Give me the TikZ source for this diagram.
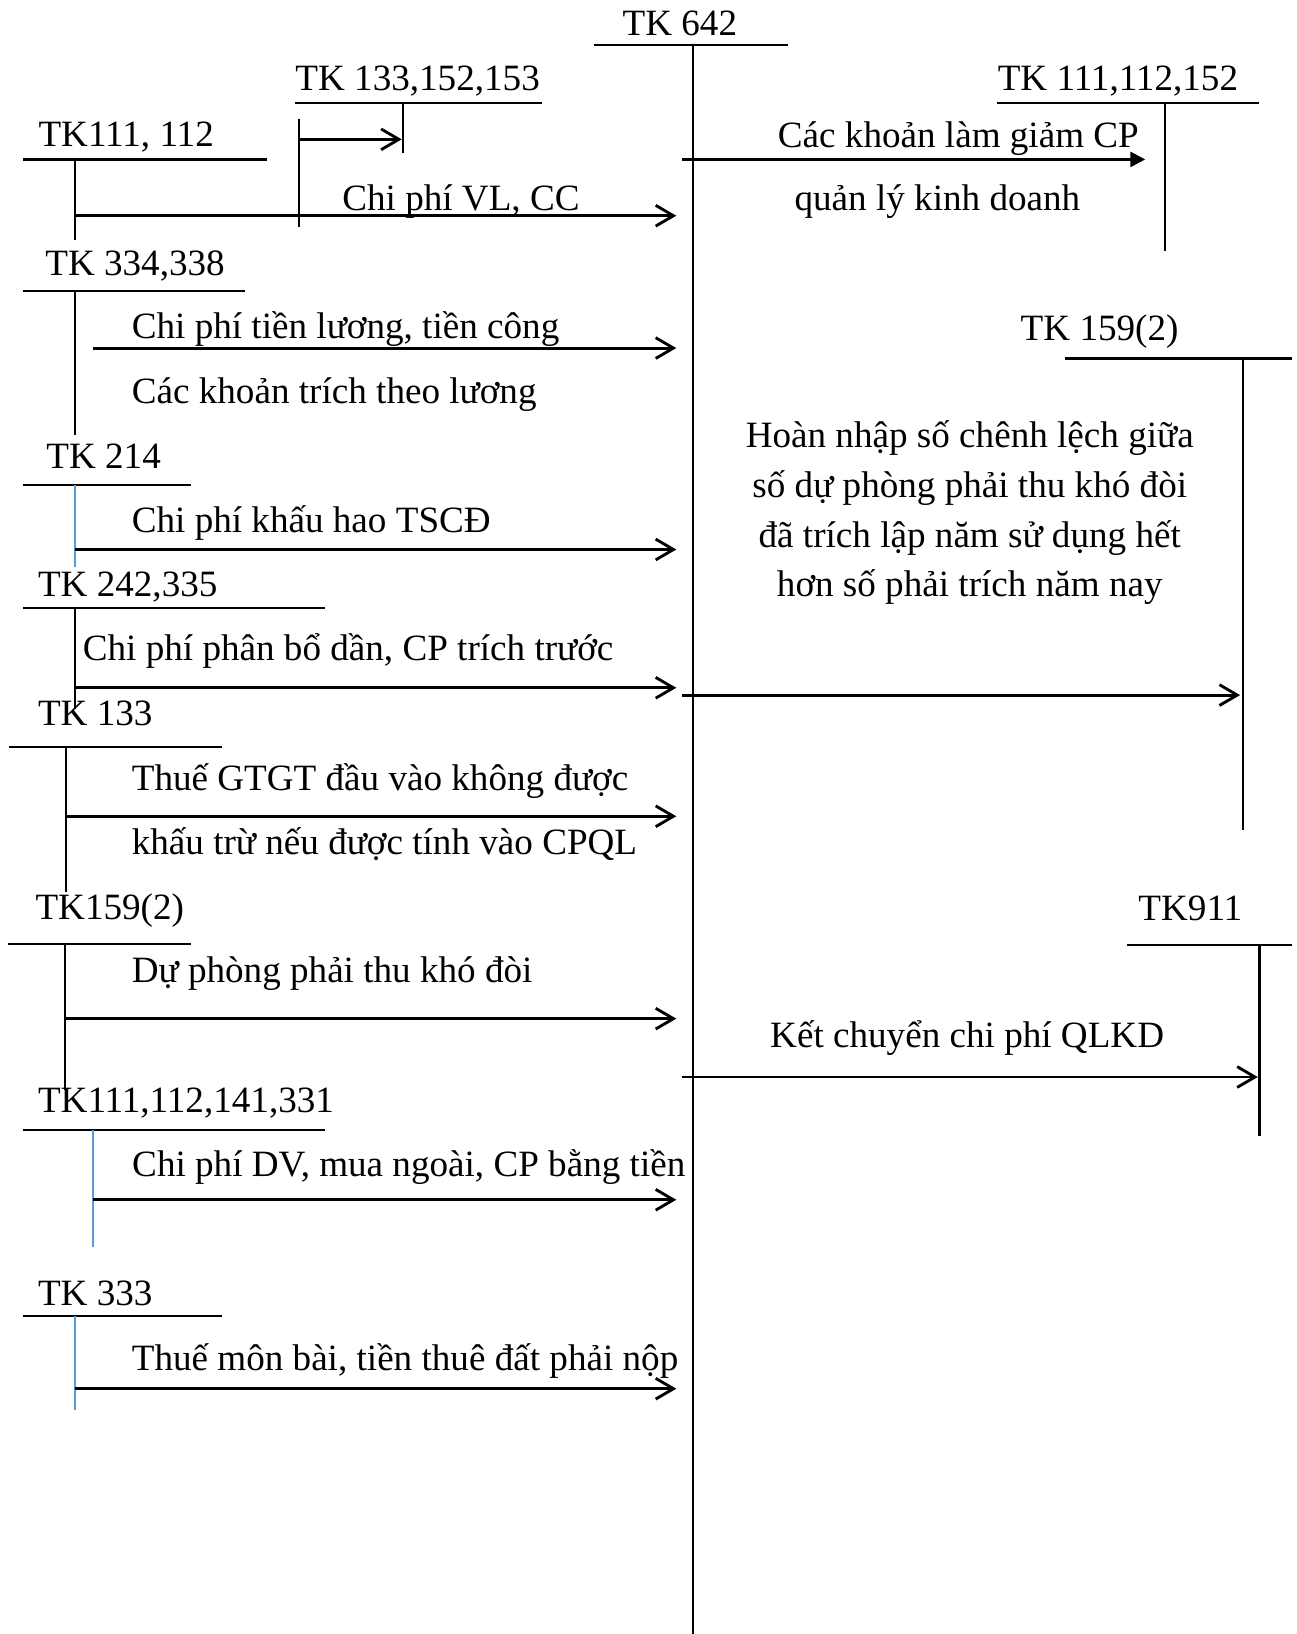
\documentclass[tikz,border=0pt]{standalone}
\usepackage{fontspec}
\setmainfont{Liberation Serif}
\usepackage{tikz}
\usetikzlibrary{calc,arrows.meta}
\definecolor{tkBlue}{RGB}{91,155,213}
\definecolor{tkInk}{RGB}{0,0,0}

\begin{document}
\begin{tikzpicture}[x=0.4pt,y=-0.4pt,font=\fontsize{14.25}{19}\selectfont,
  acc/.style={anchor=base west,inner sep=0pt},
  txt/.style={anchor=base west,inner sep=0pt},
  tline/.style={tkInk,line width=0.85pt},
  flow/.style={tkInk,line width=1.1pt,-{Straight Barb[length=2.4mm,width=2.8mm]}},
  flowfill/.style={tkInk,line width=1.1pt,-{Triangle[length=2mm,width=2mm]}}]
\useasboundingbox (0,0) rectangle (1244,1568);

% TK 642
\node[acc] (tk642) at (597,33.6) {TK 642};
\draw[tline] (570,43) -- (756,43);
\draw[tline,line width=0.95pt] (665,43) -- (665,1568);
\coordinate (in642) at (649,0);

% TK 133,152,153
\node[acc] (tk133a) at (283,86.4) {TK 133,152,153};
\draw[tline] (283,99) -- (520,99);
\draw[tline] (387,99) -- (387,147);
\draw[tline] (287,114) -- (287,218);
\coordinate (b133) at (287,133.7);
\coordinate (e133) at (385.5,99);
\draw[flow] (b133) -- (b133 -| e133);

% TK111, 112
\node[acc] (tk111) at (36.5,140.8) {TK111, 112};
\draw[tline] (22,153) -- (256,153);
\draw[tline] (72,153) -- (72,230);
\coordinate (v111) at (72,207);
\node[txt] (vlcc) at (328,201.6) {Chi phí VL, CC};

% TK 334,338
\node[acc] (tk334) at (43,264) {TK 334,338};
\draw[tline] (22,279) -- (235,279);
\draw[tline] (72,279) -- (72,417);
\coordinate (v334) at (89.5,334);
\node[txt] (luong) at (126,325) {Chi phí tiền lương, tiền công};
\node[txt] (trich) at (126,387.5) {Các khoản trích theo lương};

% TK 214
\node[acc] (tk214) at (44,449.5) {TK 214};
\draw[tline] (22,465.5) -- (183,465.5);
\draw[tline,tkBlue] (72,465.5) -- (72,544);
\coordinate (v214) at (72,527.3);
\node[txt] (khauhao) at (126,510.8) {Chi phí khấu hao TSCĐ};

% TK 242,335
\node[acc] (tk242) at (36,572.7) {TK 242,335};
\draw[tline] (22,583.3) -- (311.6,583.3);
\draw[tline] (72,583.3) -- (72,680);
\coordinate (v242) at (72,660);
\node[txt] (phanbo) at (79,634) {Chi phí phân bổ dần, CP trích trước};

% TK 133
\node[acc] (tk133) at (36,696.5) {TK 133};
\draw[tline] (8.6,716.7) -- (213,716.7);
\draw[tline] (63,716.7) -- (63,856);
\coordinate (v133) at (63,783.3);
\node[txt] (gtgt) at (126,758.8) {Thuế GTGT đầu vào không được};
\node[txt] (khautru) at (126,819.5) {khấu trừ nếu được tính vào CPQL};

% TK159(2)
\node[acc] (tk159) at (33.6,882.5) {TK159(2)};
\draw[tline] (8,905.5) -- (183,905.5);
\draw[tline] (62,905.5) -- (62,1046);
\coordinate (v159) at (62,977.5);
\node[txt] (duphong) at (126,942.8) {Dự phòng phải thu khó đòi};

% TK111,112,141,331
\node[acc] (tk331) at (36,1067.5) {TK111,112,141,331};
\draw[tline] (22,1084) -- (311.6,1084);
\draw[tline,tkBlue] (89,1084) -- (89,1196.7);
\coordinate (v331) at (89,1151.3);
\node[txt] (dichvu) at (126.4,1128.5) {Chi phí DV, mua ngoài, CP bằng tiền};

% TK 333
\node[acc] (tk333) at (36,1253) {TK 333};
\draw[tline] (22,1263) -- (213,1263);
\draw[tline,tkBlue] (72,1263) -- (72,1353.4);
\coordinate (v333) at (72,1332.6);
\node[txt] (monbai) at (126,1315.5) {Thuế môn bài, tiền thuê đất phải nộp};

\foreach \v in {v111,v334,v214,v242,v133,v159,v331,v333}
  \draw[flow] (\v) -- (\v -| in642);

% TK 111,112,152
\node[acc] (tk152) at (957,86.4) {TK 111,112,152};
\draw[tline] (957,99.2) -- (1208.6,99.2);
\draw[tline] (1118,99.2) -- (1118,240.6);
\coordinate (o152) at (654,153);
\coordinate (e152) at (1099,153);
\draw[flowfill] (o152) -- (e152);
\node[txt] (giam) at (746,141.3) {Các khoản làm giảm CP};
\node[txt] (qlkd) at (762,202) {quản lý kinh doanh};

% TK 159(2)
\node[acc] (tk159r) at (979,326.8) {TK 159(2)};
\draw[tline] (1022,344) -- (1240,344);
\draw[tline] (1193,344) -- (1193,796.7);
\coordinate (o159) at (654,667);
\coordinate (e159) at (1190,667);
\node[align=center,inner sep=0pt,font=\fontsize{14.25}{19.1}\selectfont] (hoan) at (930.6,492)
  {Hoàn nhập số chênh lệch giữa\\số dự phòng phải thu khó đòi\\đã trích lập năm sử dụng hết\\hơn số phải trích năm nay};

% TK911
\node[acc] (tk911) at (1092,883.5) {TK911};
\draw[tline] (1081,906.5) -- (1240,906.5);
\draw[tline] (1208.6,906.5) -- (1208.6,1090.5);
\coordinate (o911) at (654,1033.5);
\coordinate (e911) at (1207,1033.5);
\node[txt] (ketchuyen) at (738.6,1005.2) {Kết chuyển chi phí QLKD};

\foreach \a/\b in {o159/e159,o911/e911}
  \draw[flow] (\a) -- (\b);
\end{tikzpicture}
\end{document}
